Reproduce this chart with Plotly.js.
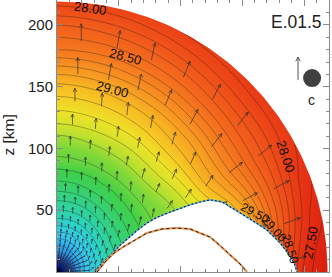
<!DOCTYPE html>
<html><head><meta charset="utf-8">
<script src="https://cdn.plot.ly/plotly-3.0.1.min.js"></script>
<style>html,body{margin:0;padding:0;background:#fff;}#chart{width:332px;height:277px;}</style>
</head><body><div id="chart"></div>
<script>
// ---- field samples on a polar grid (radius km x angle from x-axis, deg)
const radiiKm  = [0,5,10,15,20,30,40,50,60,70,80,90,100,110,120,130,140,150,160,170,180,190,200,210,220];
const anglesDeg = [0,15,30,45,60,75,90];
const fieldAt0  = [33.0,32.0,31.4,31.0,30.8,30.52,30.28,30.08,29.95,29.8,29.7,29.6,29.55,29.5,29.45,29.4,29.3,29.15,28.95,28.6,28.2,27.85,27.6,27.45,27.35];
const fieldAt15 = [33.0,32.0,31.4,31.0,30.82,30.55,30.3,30.1,29.95,29.8,29.7,29.6,29.55,29.5,29.45,29.4,29.3,29.15,28.95,28.65,28.35,28.1,27.85,27.65,27.55];
const fieldAt30 = [33.0,32.0,31.4,31.0,30.84,30.58,30.34,30.12,29.96,29.82,29.7,29.6,29.55,29.48,29.35,29.18,29.0,28.85,28.66,28.48,28.3,28.15,28.0,27.86,27.75];
const fieldAt45 = [33.0,32.0,31.4,31.0,30.86,30.62,30.38,30.18,30.0,29.85,29.72,29.6,29.52,29.42,29.28,29.14,29.0,28.88,28.7,28.52,28.35,28.2,28.05,27.91,27.8];
const fieldAt60 = [33.0,32.0,31.4,31.0,30.88,30.65,30.42,30.22,30.05,29.88,29.75,29.62,29.54,29.45,29.32,29.19,29.07,28.95,28.78,28.6,28.42,28.28,28.13,27.98,27.85];
const fieldAt75 = [33.0,32.0,31.4,31.0,30.9,30.68,30.44,30.25,30.08,29.91,29.78,29.64,29.56,29.48,29.35,29.23,29.12,29.0,28.84,28.66,28.48,28.34,28.2,28.04,27.9];
const fieldAt90 = [33.0,32.0,31.4,31.0,30.9,30.68,30.44,30.25,30.09,29.92,29.8,29.65,29.58,29.51,29.375,29.26,29.15,29.04,28.875,28.69,28.5,28.375,28.25,28.08,27.93];

// colour table (field value -> colour)
const colorLevels = [27.4,27.7,28.0,28.3,28.6,28.9,29.1,29.25,29.36,29.47,29.57,29.75,30.1,30.4,30.7,30.95,31.25,31.7,32.3,33.0];
const colorHexes  = ['#dc2010','#e63214','#ee4a18','#f3641c','#f68220','#f8a622','#f6c824','#eee228','#d8e22a','#b8e030','#7cd83a','#40d048','#30d28c','#2cd4c8','#38c8f0','#2c98ec','#1c58d0','#102c90','#000840','#000000'];

// contour levels
const contourStart = 27.5, contourEnd = 31.75, contourStep = 0.125;

// geometry (km)
const outerRadiusKm = 219;
const cavityX = [30.8,35,40,45.3,51,57.5,65,72.9,80,87.4,99.6,108,115.8,123.9,133.6,142.5,156.3,170,180.6,188.7,192.5,194.3];
const cavityZ = [0,5.5,10.5,15.4,21.5,27.5,33.8,39.7,43.8,47,51.8,54.5,56.7,58.4,56.8,51.5,42.9,34,23.5,13,6,0];
const nucleusX = [32.4,38.9,45.3,53.4,63.2,72.9,85,97.2,107.7,115.8,123.9,129.6,136,142.5,148.2,153.8];
const nucleusZ = [0,8.1,14.6,20.2,25.9,31.6,34.8,35.6,34.8,31.6,28.3,23.5,17.8,12.1,6.5,0];

// velocity arrows
const arrowRingRadii   = [188,161,139,120,103,89,77,66,57,49,42,36,31,27,23,20,17,14.5,12.5,10.5,9,7.5];
const arrowRingLengths = [14,13.5,10.5,8.5,7.5,7,6.5,6,5.5,5,4.5,4,3.8,3.5,3.2,3,2.8,2.6,2.4,2.2,2,1.8];
const arrowAngles    = [84,75,66,57,48,39,30,21,12,3];
const arrowDirOuter  = [90,80,78,68,62,52,38,28,20,10];   // r >= 150
const arrowDirMiddle = [90,86,83,79,74,66,56,44,30,15];   // 100 <= r < 150
const arrowDirInner  = [90,90,89,88,86,83,78,70,60,45];   // 25 <= r < 100
const arrowDirCore   = [84,75,66,57,48,39,30,21,12,3];    // r < 25

// contour labels
const labelTexts = ['28.00','28.50','29.00','28.00','27.50','29.50','29.00','28.50'];
const labelX     = [27.5,55.1,45.3,185.4,205.7,160.3,175.7,188.7];
const labelZ     = [213.2,174.1,147.4,93.9,23.5,47.8,34.8,18.6];
const labelAngle = [8,15,15,72,-80,28,48,72];
const labelSize  = [13,13,13,13,13,12,12,12];

const yTickVals = [0,50,100,150,200];
const caseName = 'E.01.5';
const axisTitle = 'z [km]';
const legendLetter = 'c';

// ---- build tables for the library
const fieldRows = [fieldAt0,fieldAt15,fieldAt30,fieldAt45,fieldAt60,fieldAt75,fieldAt90];
function radialValue(row, r){
  let i=0; while(i<radiiKm.length-2 && r>radiiKm[i+1]) i++;
  let f=(r-radiiKm[i])/(radiiKm[i+1]-radiiKm[i]); f=Math.max(0,Math.min(1.5,f));
  return row[i]+(row[i+1]-row[i])*f;
}
function fieldAt(x,z){
  const r=Math.hypot(x,z);
  let th=Math.atan2(z,x)*180/Math.PI; th=Math.max(0,Math.min(90,th));
  let j=0; while(j<anglesDeg.length-2 && th>anglesDeg[j+1]) j++;
  const t=(th-anglesDeg[j])/(anglesDeg[j+1]-anglesDeg[j]);
  const n=fieldRows.length;
  const p0=radialValue(fieldRows[Math.max(0,j-1)],r), p1=radialValue(fieldRows[j],r),
        p2=radialValue(fieldRows[j+1],r), p3=radialValue(fieldRows[Math.min(n-1,j+2)],r);
  const t2=t*t, t3=t2*t;
  return 0.5*((2*p1)+(-p0+p2)*t+(2*p0-5*p1+4*p2-p3)*t2+(-p0+3*p1-3*p2+p3)*t3);
}
const gx=[], gz=[];
for(let v=0; v<=221; v+=1.2){ gx.push(v); gz.push(v); }
const grid = gz.map(z=>gx.map(x=>fieldAt(x,z)));
const zmin=colorLevels[0], zmax=colorLevels[colorLevels.length-1];
const cscale = colorLevels.map((v,i)=>[(v-zmin)/(zmax-zmin), colorHexes[i]]);

// arrows
const ax=[], ay=[];
arrowRingRadii.forEach((r,k)=>{
  const L=arrowRingLengths[k];
  const dirs = r>=150?arrowDirOuter : r>=100?arrowDirMiddle : r>=25?arrowDirInner : arrowDirCore;
  arrowAngles.forEach((th,m)=>{
    const a=th*Math.PI/180, d=dirs[m]*Math.PI/180;
    const x0=r*Math.cos(a), z0=r*Math.sin(a);
    const x1=x0+L*Math.cos(d), z1=z0+L*Math.sin(d);
    const h=Math.min(3.2,0.35*L);
    ax.push(x0,x1,null, x1+h*Math.cos(d+Math.PI-0.45), x1, x1+h*Math.cos(d+Math.PI+0.45), null);
    ay.push(z0,z1,null, z1+h*Math.sin(d+Math.PI-0.45), z1, z1+h*Math.sin(d+Math.PI+0.45), null);
  });
});

// masks
const mx=[], mz=[];
for(let t=90; t>=0; t-=1){ mx.push(outerRadiusKm*Math.cos(t*Math.PI/180)); mz.push(outerRadiusKm*Math.sin(t*Math.PI/180)); }
mx.push(240,240,0); mz.push(0,240,240);
const cx=cavityX.concat([cavityX[cavityX.length-1],cavityX[0]]);
const cz=cavityZ.concat([-3,-3]);

const FONT='"Liberation Sans", Arial, Helvetica, sans-serif';
const traces=[
  {type:'heatmap', x:gx, y:gz, z:grid, colorscale:cscale, zmin:zmin, zmax:zmax, zsmooth:'best', showscale:false, hoverinfo:'skip'},
  {type:'contour', x:gx, y:gz, z:grid, showscale:false, hoverinfo:'skip',
   contours:{coloring:'none', start:contourStart, end:contourEnd, size:contourStep},
   line:{color:'rgba(20,20,20,0.55)', width:0.6, smoothing:1}},
  {type:'scatter', mode:'lines', x:ax, y:ay, line:{color:'rgba(45,45,45,0.85)', width:0.8}, hoverinfo:'skip', showlegend:false},
  {type:'scatter', mode:'lines', x:mx, y:mz, fill:'toself', fillcolor:'#ffffff', line:{width:0,color:'#ffffff'}, hoverinfo:'skip', showlegend:false},
  {type:'scatter', mode:'lines', x:cx, y:cz, fill:'toself', fillcolor:'#ffffff', line:{width:0,color:'#ffffff'}, hoverinfo:'skip', showlegend:false},
  {type:'scatter', mode:'lines', x:cavityX, y:cavityZ, line:{color:'#6cb8e0', width:1.6}, hoverinfo:'skip', showlegend:false},
  {type:'scatter', mode:'lines', x:cavityX, y:cavityZ, line:{color:'#1a1a1a', width:1.1, dash:'2px,2px'}, hoverinfo:'skip', showlegend:false},
  {type:'scatter', mode:'lines', x:nucleusX, y:nucleusZ, line:{color:'#e8904c', width:2}, hoverinfo:'skip', showlegend:false},
  {type:'scatter', mode:'lines', x:nucleusX, y:nucleusZ, line:{color:'#1a1a1a', width:1, dash:'3px,3px'}, hoverinfo:'skip', showlegend:false}
];

const annotations = labelTexts.map((t,i)=>({x:labelX[i], y:labelZ[i], xref:'x', yref:'y', text:t, showarrow:false,
  textangle:labelAngle[i], font:{family:FONT, size:labelSize[i], color:'#111'}}));
annotations.push({x:193.5, y:202.4, xref:'x', yref:'y', text:caseName, showarrow:false, font:{family:FONT, size:17.5, color:'#222'}});
annotations.push({x:205.7, y:139.3, xref:'x', yref:'y', text:legendLetter, showarrow:false, font:{family:FONT, size:14, color:'#222'}});
annotations.push({x:-0.178, y:0.504, xref:'paper', yref:'paper', text:axisTitle, textangle:-90, showarrow:false, xanchor:'center', yanchor:'middle', font:{family:FONT, size:15.5, color:'#222'}});

const axisCommon = {showgrid:false, zeroline:false, showline:true, linecolor:'#8a8a8a', linewidth:1, mirror:'ticks',
  ticks:'inside', ticklen:6, tickcolor:'#8a8a8a', tickwidth:1, range:[0,220.2], fixedrange:true,
  minor:{dtick:10, ticks:'inside', ticklen:3, tickcolor:'#8a8a8a', tickwidth:1, showgrid:false}};

const layout = {
  width:332, height:277, margin:{l:57, r:3, t:0, b:5}, paper_bgcolor:'#fff', plot_bgcolor:'#fff', showlegend:false,
  xaxis:Object.assign({}, axisCommon, {dtick:50, tick0:0, showticklabels:false}),
  yaxis:Object.assign({}, axisCommon, {tickvals:yTickVals, ticktext:yTickVals.map(String), tickfont:{family:FONT, size:15, color:'#222'}}),
  annotations:annotations,
  shapes:[
    {type:'line', xref:'x', yref:'y', x0:195.1, x1:195.1, y0:155.5, y1:174, line:{color:'#555', width:1}},
    {type:'path', xref:'x', yref:'y', path:'M 193.3 170.6 L 195.1 174 L 196.9 170.6', line:{color:'#555', width:1}},
    {type:'circle', xref:'x', yref:'y', x0:199.2, x1:213.8, y0:149.7, y1:164.3, fillcolor:'#404040', line:{width:0}}
  ]
};
Plotly.newPlot('chart', traces, layout, {staticPlot:true, displayModeBar:false});
</script></body></html>
